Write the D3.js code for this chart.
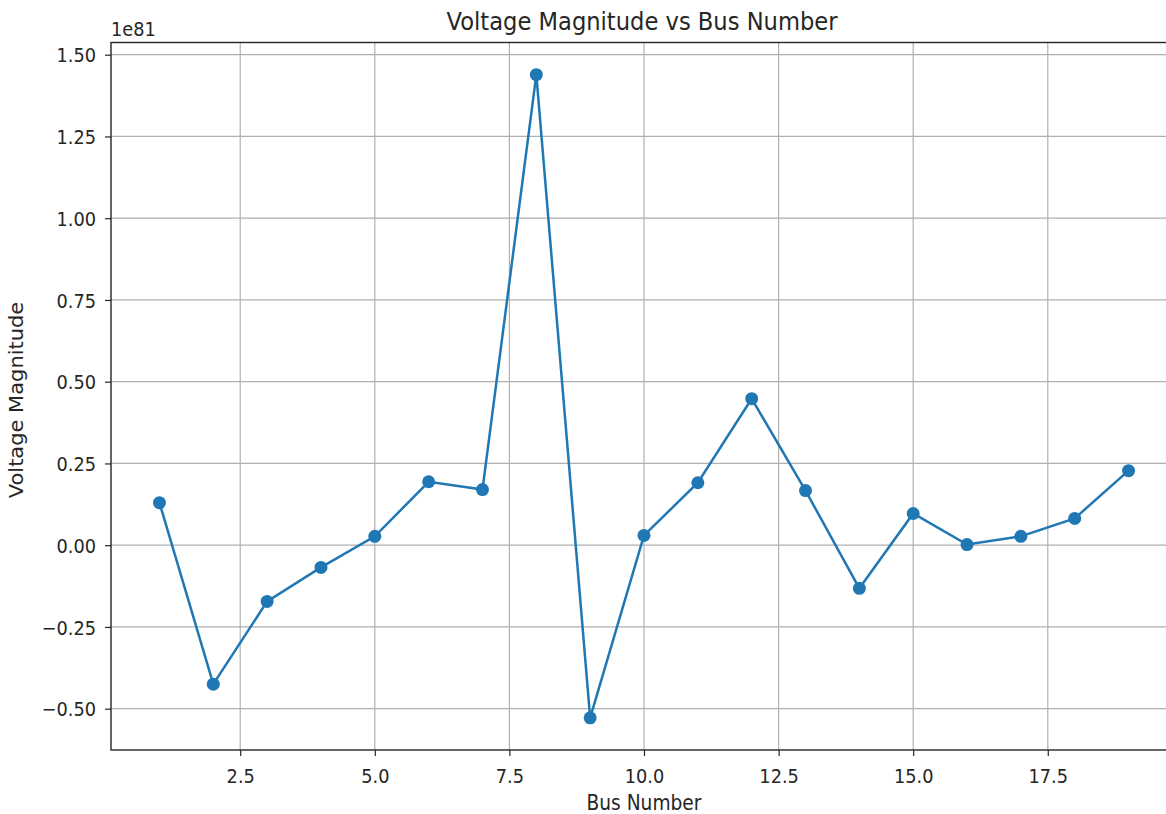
<!DOCTYPE html>
<html>
<head>
<meta charset="utf-8">
<script src="https://cdn.jsdelivr.net/npm/d3@7"></script>
<style>
  body { margin: 0; background: #fff; }
  svg { display: block; font-family: "DejaVu Sans", sans-serif; }
</style>
</head>
<body>
<svg id="chart"></svg>
<script>
// Chart data (values in units of 1e81)
const busNumbers = [1, 2, 3, 4, 5, 6, 7, 8, 9, 10, 11, 12, 13, 14, 15, 16, 17, 18, 19];
const voltageMagnitudes = [0.130, -0.425, -0.172, -0.068, 0.027, 0.194, 0.170, 1.439, -0.528,
  0.030, 0.191, 0.448, 0.167, -0.132, 0.097, 0.002, 0.027, 0.082, 0.228];
const xTicks = [2.5, 5.0, 7.5, 10.0, 12.5, 15.0, 17.5];
const yTicks = [-0.50, -0.25, 0.00, 0.25, 0.50, 0.75, 1.00, 1.25, 1.50];

const WIDTH = 1166;
const HEIGHT = 814;
const LINE_COLOR = "#1f77b4";
const GRID_COLOR = "#b0b0b0";
const TEXT_COLOR = "#262626";
const SQUISH = 0.887; // text in the picture is a little narrower than it is tall

const margin = { top: 42.5, left: 111, right: 1177, bottom: 750 };

const svg = d3.select("#chart")
  .attr("width", WIDTH)
  .attr("height", HEIGHT);

// matplotlib-like 5% margins
const xPad = (d3.max(busNumbers) - d3.min(busNumbers)) * 0.05;
const yMin = d3.min(voltageMagnitudes), yMax = d3.max(voltageMagnitudes);
const yPad = (yMax - yMin) * 0.05;

const x = d3.scaleLinear()
  .domain([d3.min(busNumbers) - xPad, d3.max(busNumbers) + xPad])
  .range([margin.left, margin.right]);
const y = d3.scaleLinear()
  .domain([yMin - yPad, yMax + yPad])
  .range([margin.bottom, margin.top]);

const minus = s => s.replace("-", "\u2212");

// Grid lines
svg.append("g")
  .selectAll("line")
  .data(xTicks)
  .join("line")
  .attr("x1", d => x(d)).attr("x2", d => x(d))
  .attr("y1", margin.top).attr("y2", margin.bottom)
  .attr("stroke", GRID_COLOR).attr("stroke-width", 1.2);

svg.append("g")
  .selectAll("line")
  .data(yTicks)
  .join("line")
  .attr("x1", margin.left).attr("x2", margin.right)
  .attr("y1", d => y(d)).attr("y2", d => y(d))
  .attr("stroke", GRID_COLOR).attr("stroke-width", 1.2);

// Axes
const xAxis = svg.append("g")
  .attr("transform", `translate(0,${margin.bottom})`)
  .call(d3.axisBottom(x).tickValues(xTicks).tickFormat(d3.format(".1f")).tickSizeOuter(0).tickSize(6));
const yAxis = svg.append("g")
  .attr("transform", `translate(${margin.left},0)`)
  .call(d3.axisLeft(y).tickValues(yTicks).tickFormat(d => minus(d3.format(".2f")(d))).tickSizeOuter(0).tickSize(6));

[xAxis, yAxis].forEach(a => {
  a.select(".domain").remove();
  a.selectAll("text")
    .attr("font-size", 20)
    .attr("fill", TEXT_COLOR)
    .attr("font-family", "DejaVu Sans")
    .attr("transform", `scale(${SQUISH},1)`);
  a.selectAll(".tick line").attr("stroke", TEXT_COLOR).attr("stroke-width", 1.2);
});
xAxis.selectAll("text").attr("dy", null).attr("y", 33.5);
yAxis.selectAll("text").attr("x", -15 / SQUISH).attr("dy", "0.36em");

// Frame
svg.append("rect")
  .attr("x", margin.left).attr("y", margin.top)
  .attr("width", margin.right - margin.left)
  .attr("height", margin.bottom - margin.top)
  .attr("fill", "none").attr("stroke", TEXT_COLOR).attr("stroke-width", 1.4);

// Line and markers
const line = d3.line()
  .x((d, i) => x(busNumbers[i]))
  .y(d => y(d));

svg.append("path")
  .datum(voltageMagnitudes)
  .attr("d", line)
  .attr("fill", "none")
  .attr("stroke", LINE_COLOR)
  .attr("stroke-width", 2.5);

svg.append("g")
  .selectAll("circle")
  .data(voltageMagnitudes)
  .join("circle")
  .attr("cx", (d, i) => x(busNumbers[i]))
  .attr("cy", d => y(d))
  .attr("r", 6.5)
  .attr("fill", LINE_COLOR);

// Texts
function addText(tx, ty, size, anchor, str, rotate) {
  const t = rotate
    ? `translate(${tx},${ty}) rotate(-90) scale(1,${SQUISH})`
    : `translate(${tx},${ty}) scale(${SQUISH},1)`;
  svg.append("text")
    .attr("transform", t)
    .attr("text-anchor", anchor)
    .attr("font-size", size)
    .attr("fill", TEXT_COLOR)
    .text(str);
}

addText(642, 30, 25.5, "middle", "Voltage Magnitude vs Bus Number");
addText(margin.left, 36, 20, "start", "1e81");
addText(644, 810, 21, "middle", "Bus Number");
addText(23, 400, 21, "middle", "Voltage Magnitude", true);
</script>
</body>
</html>
